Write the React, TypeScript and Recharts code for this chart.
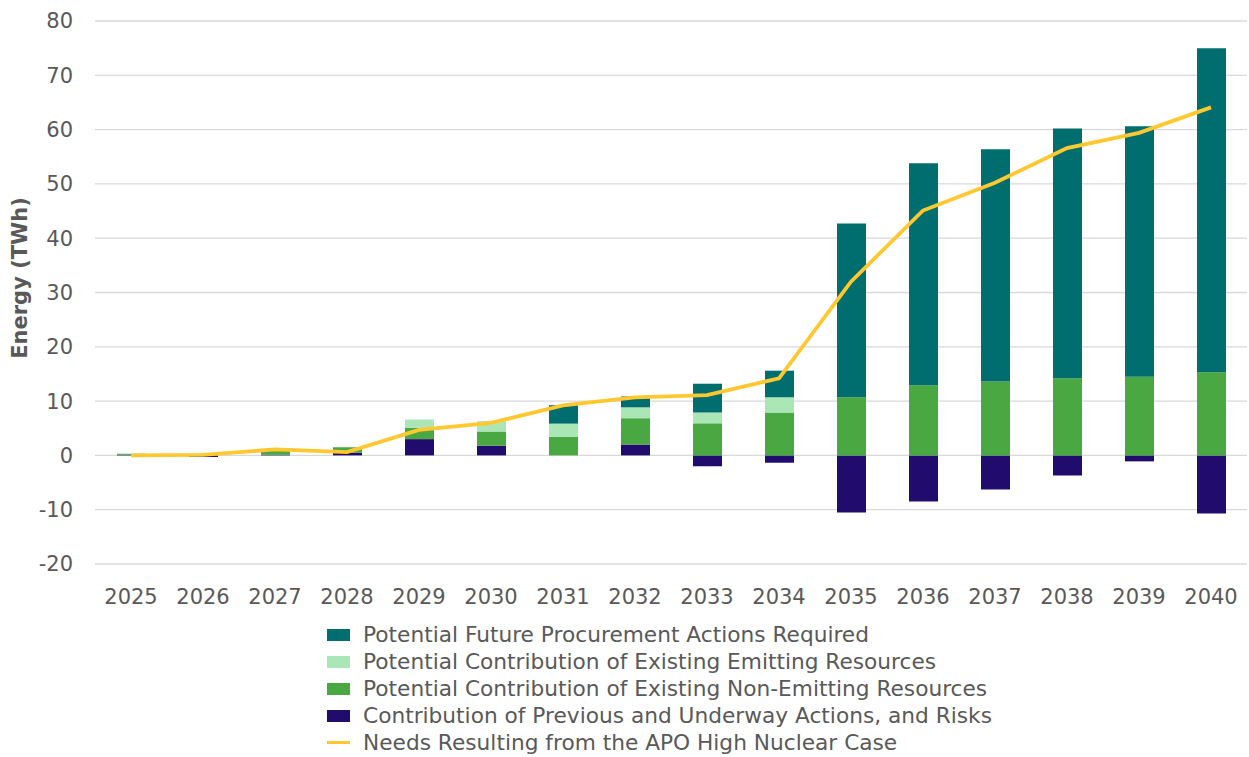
import { Bar, CartesianGrid, ComposedChart, Line, XAxis, YAxis } from "recharts"

const years = ["2025", "2026", "2027", "2028", "2029", "2030", "2031", "2032", "2033", "2034", "2035", "2036", "2037", "2038", "2039", "2040"]
const previousActions = [0.1, -0.3, 0.1, 0.5, 3.0, 1.8, 0, 2.0, -2.0, -1.35, -10.5, -8.5, -6.3, -3.7, -1.1, -10.7]
const nonEmitting = [0.2, 0, 0.8, 1.0, 2.1, 2.6, 3.4, 4.85, 5.9, 7.9, 10.7, 12.9, 13.6, 14.2, 14.5, 15.3]
const emitting = [0, 0, 0, 0, 1.5, 1.9, 2.45, 2.0, 2.0, 2.8, 0, 0, 0, 0, 0, 0]
const procurement = [0, 0, 0, 0, 0, 0, 3.4, 2.0, 5.3, 4.9, 32, 40.9, 42.8, 46, 46.1, 59.7]
const needs = [0, 0.1, 1.1, 0.6, 4.7, 6.0, 9.2, 10.7, 11.1, 14.2, 32, 45.1, 50.2, 56.6, 59.4, 64.1]
const yTicks = [-20, -10, 0, 10, 20, 30, 40, 50, 60, 70, 80]

const data = years.map((year, i) => ({
  year,
  previous: previousActions[i],
  nonEmitting: nonEmitting[i],
  emitting: emitting[i],
  procurement: procurement[i],
  needs: needs[i],
}))

const FONT = "'DejaVu Sans', sans-serif"
const TEXT = "#595959"

const legendItems = [
  { label: "Potential Future Procurement Actions Required", color: "#006E6E", line: false },
  { label: "Potential Contribution of Existing Emitting Resources", color: "#ABE7B6", line: false },
  { label: "Potential Contribution of Existing Non-Emitting Resources", color: "#4AA842", line: false },
  { label: "Contribution of Previous and Underway Actions, and Risks", color: "#210C6E", line: false },
  { label: "Needs Resulting from the APO High Nuclear Case", color: "#FFC830", line: true },
]

function AxisTitle() {
  return (
    <text
      x={20}
      y={278}
      transform="rotate(-90 20 278)"
      textAnchor="middle"
      dominantBaseline="central"
      fontFamily={FONT}
      fontSize={21}
      fontWeight="bold"
      fill={TEXT}
    >
      Energy (TWh)
    </text>
  )
}

export default function App() {
  return (
    <div style={{ position: "absolute", left: 0, top: 0, width: 1249, height: 757, background: "#fff", fontFamily: FONT }}>
      <ComposedChart
        width={1249}
        height={757}
        data={data}
        stackOffset="sign"
        margin={{ top: 21, right: 2, bottom: 153, left: 0 }}
      >
        <CartesianGrid vertical={false} stroke="#D9D9D9" strokeWidth={1.3} />
        <XAxis
          dataKey="year"
          height={40}
          axisLine={false}
          tickLine={false}
          tickSize={0}
          tickMargin={25}
          interval={0}
          tick={{ fill: TEXT, fontSize: 21, fontFamily: FONT }}
        />
        <YAxis
          width={95}
          domain={[-20, 80]}
          ticks={yTicks}
          axisLine={false}
          tickLine={false}
          tickSize={0}
          tickMargin={22}
          tick={{ fill: TEXT, fontSize: 21, fontFamily: FONT }}
        />
        <Bar dataKey="previous" stackId="a" fill="#210C6E" barSize={29} isAnimationActive={false} />
        <Bar dataKey="nonEmitting" stackId="a" fill="#4AA842" barSize={29} isAnimationActive={false} />
        <Bar dataKey="emitting" stackId="a" fill="#ABE7B6" barSize={29} isAnimationActive={false} />
        <Bar dataKey="procurement" stackId="a" fill="#006E6E" barSize={29} isAnimationActive={false} />
        <Line
          type="linear"
          dataKey="needs"
          stroke="#FFC830"
          strokeWidth={3.8}
          dot={false}
          activeDot={false}
          isAnimationActive={false}
        />
        <AxisTitle />
      </ComposedChart>
      <div style={{ position: "absolute", left: 327, top: 621, color: TEXT, fontSize: 21.7, lineHeight: "27px" }}>
        {legendItems.map((item) => (
          <div key={item.label} style={{ display: "flex", alignItems: "center", whiteSpace: "nowrap" }}>
            <span
              style={{
                display: "inline-block",
                width: 23,
                height: item.line ? 3 : 12,
                background: item.color,
                marginRight: 13,
              }}
            />
            {item.label}
          </div>
        ))}
      </div>
    </div>
  )
}
